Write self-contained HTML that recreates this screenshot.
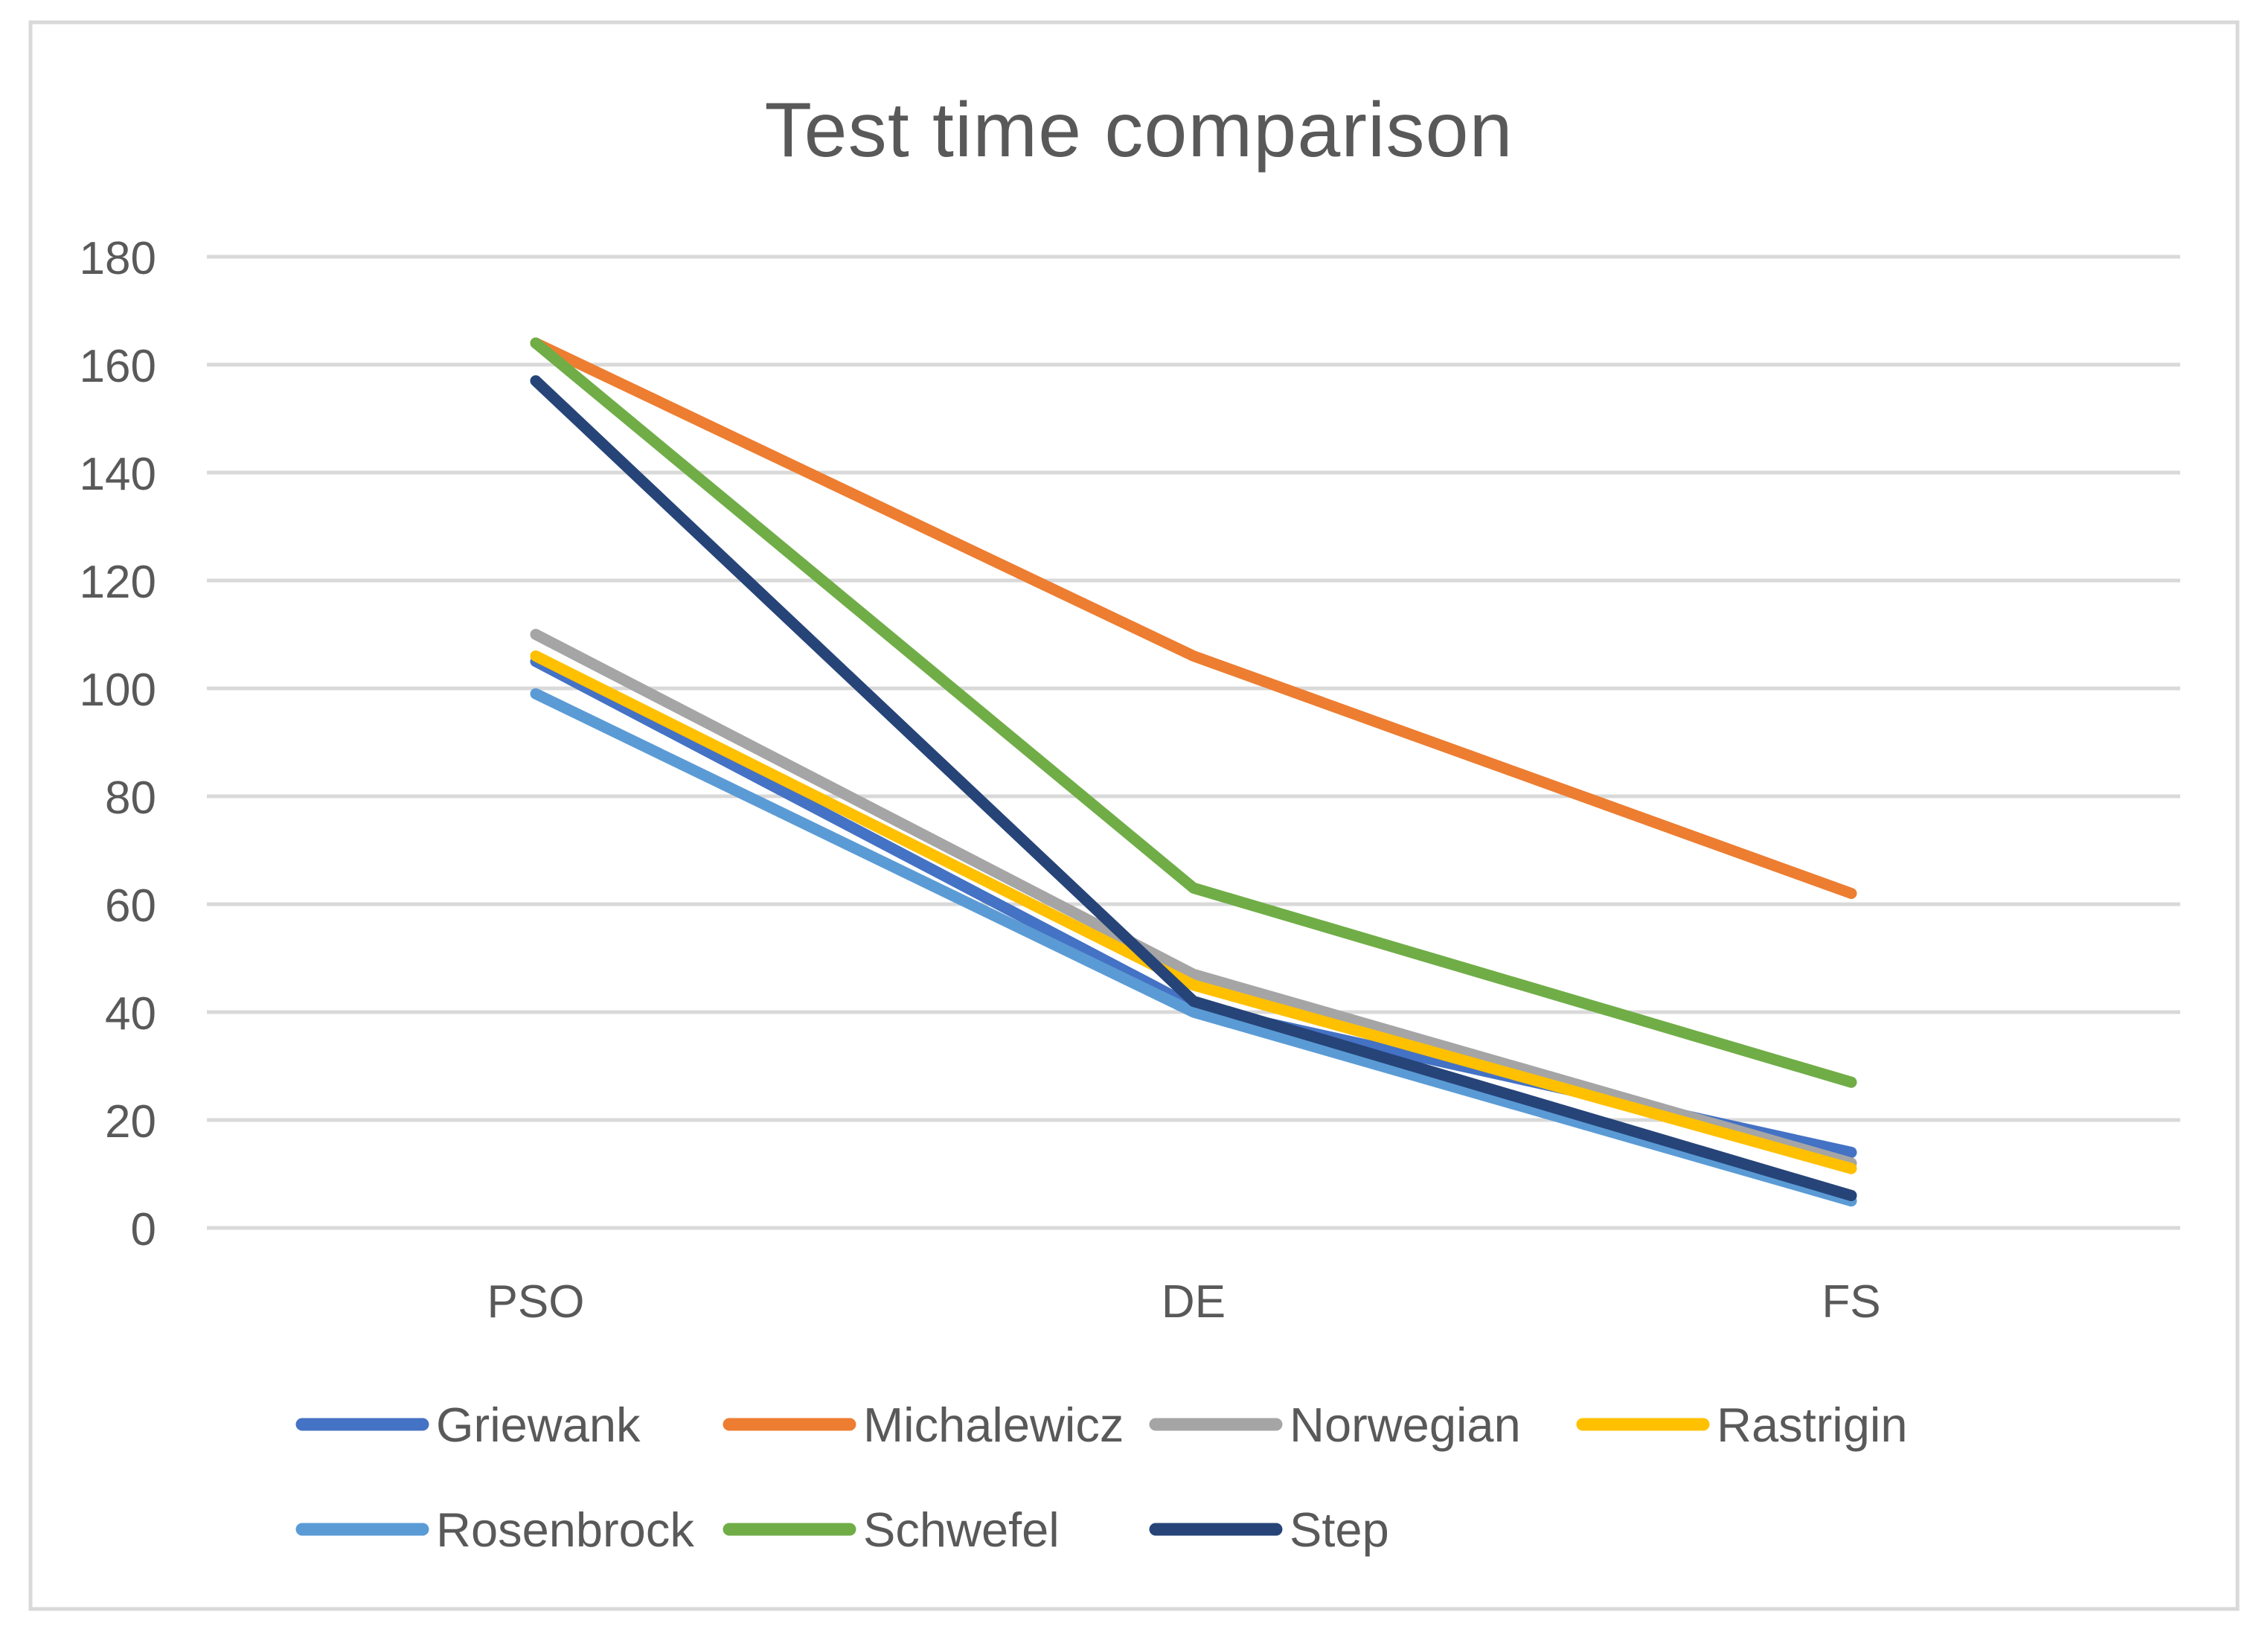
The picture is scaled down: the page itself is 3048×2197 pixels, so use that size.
<!DOCTYPE html>
<html><head><meta charset="utf-8"><style>
html,body{margin:0;padding:0;background:#fff;}
svg{display:block;font-family:"Liberation Sans",sans-serif;}
</style></head><body>
<svg id="chart" width="3048" height="2197" viewBox="0 0 3048 2197" xmlns="http://www.w3.org/2000/svg">
<rect x="41" y="30" width="2966" height="2132" fill="#fff" stroke="#d9d9d9" stroke-width="5"/>
<text x="1530" y="210" text-anchor="middle" font-size="104" fill="#595959" textLength="1005">Test time comparison</text>
<g id="grid"></g><g id="series"></g><g id="legend"></g>
</svg>
<script>
const categories = ["PSO","DE","FS"];
const yTicks = [0,20,40,60,80,100,120,140,160,180];
const seriesNames = ["Griewank","Michalewicz","Norwegian","Rastrigin","Rosenbrock","Schwefel","Step"];
const griewank = [105,41,14];
const michalewicz = [164,106,62];
const norwegian = [110,47,12];
const rastrigin = [106,45,11];
const rosenbrock = [99,40,5];
const schwefel = [164,63,27];
const step = [157,42,6];
const colors = ["#4472c4","#ed7d31","#a5a5a5","#ffc000","#5b9bd5","#70ad47","#264478"];
const allSeries = [griewank,michalewicz,norwegian,rastrigin,rosenbrock,schwefel,step];
const NS="http://www.w3.org/2000/svg";
const L=278,R=2930,T=345,B=1650,yMax=180;
const bw=(R-L)/categories.length;
const xS=i=>L+bw*(i+0.5);
const yS=v=>B-(v/yMax)*(B-T);
function mk(t,a,p){const e=document.createElementNS(NS,t);for(const k in a)e.setAttribute(k,a[k]);p.appendChild(e);return e;}
const grid=document.getElementById('grid');
yTicks.forEach(v=>{
 const l=mk('line',{x1:L,x2:R,y1:yS(v),y2:yS(v),stroke:'#d9d9d9','stroke-width':5},grid);
 
 
 const t=mk('text',{x:210,y:yS(v)+23,'text-anchor':'end','font-size':62,fill:'#595959'},grid);
 t.textContent=v;
 
 
});
categories.forEach((c,i)=>{
 const t=mk('text',{x:xS(i),y:1770,'text-anchor':'middle','font-size':62,fill:'#595959'},grid);
 t.textContent=c;
 
 
});
const sg=document.getElementById('series');
allSeries.forEach((vals,s)=>{
 const pts=vals.map((v,i)=>xS(i)+','+yS(v)).join(' ');
 const p=mk('polyline',{points:pts,fill:'none',stroke:colors[s],'stroke-width':15,'stroke-linecap':'round','stroke-linejoin':'round'},sg);
 
 
});
const lg=document.getElementById('legend');
const lx=[398,972,1545,2119,398,972,1545];
const ly=[1914,1914,1914,1914,2055,2055,2055];
seriesNames.forEach((n,s)=>{
 const g=mk('g',{},lg);
 
 
 mk('line',{x1:lx[s]+8,x2:lx[s]+170,y1:ly[s],y2:ly[s],stroke:colors[s],'stroke-width':17,'stroke-linecap':'round'},g);
 const t=mk('text',{x:lx[s]+188,y:ly[s]+23,'font-size':65,fill:'#595959'},g);
 t.textContent=n;
});
</script>
</body></html>
